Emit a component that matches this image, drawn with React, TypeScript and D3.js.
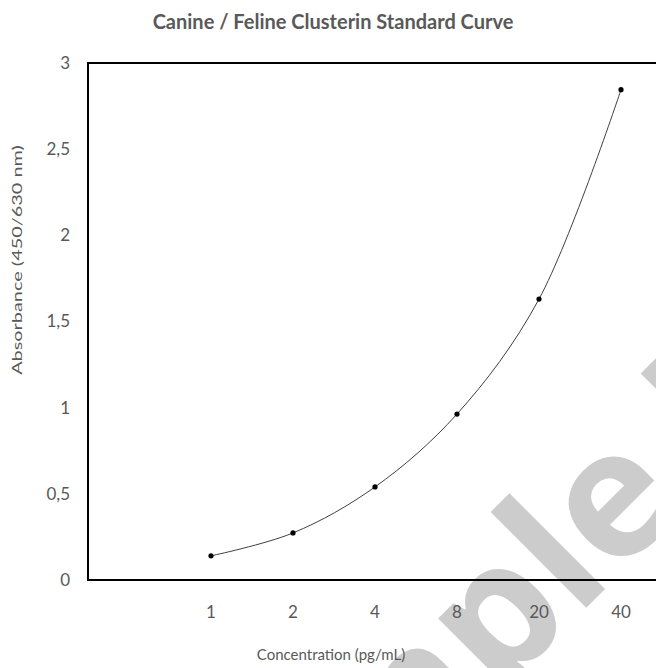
import React from 'react';
import * as d3 from 'd3';

// first category is an empty slot in the original sheet (no label, no point)
const categories = ['', '1', '2', '4', '8', '20', '40'];
const absorbance: (number | null)[] = [null, 0.14, 0.273, 0.54, 0.963, 1.63, 2.845];
const yTicks = [0, 0.5, 1, 1.5, 2, 2.5, 3];

const width = 656;
const height = 668;
const margin = { top: 63, left: 88, bottom: 580, right: 662 };
const font = 'Lato, "Open Sans", sans-serif';
const grey = '#595959';

export default function App() {
    const x = d3.scaleBand<string>()
        .domain(categories)
        .range([margin.left, margin.right]);

    const y = d3.scaleLinear()
        .domain([0, 3])
        .range([margin.bottom, margin.top]);

    const points = categories
        .map((c, i) => ({ c, v: absorbance[i] }))
        .filter(d => d.v !== null) as { c: string; v: number }[];

    const line = d3.line<{ c: string; v: number }>()
        .x(d => (x(d.c) as number) + x.bandwidth() / 2)
        .y(d => y(d.v))
        .curve(d3.curveCatmullRom.alpha(0.5));

    const fmt = (v: number) => String(v).replace('.', ',');

    return (
        <svg width={width} height={height} style={{ position: 'absolute', left: 0, top: 0, background: '#fff' }}>
            {/* watermark */}
            <text transform="translate(228 966) rotate(-45)"
                fontFamily='"Open Sans", sans-serif' fontWeight="bold" fontSize={178} fill="#cccccc">
                Sample<tspan dx={-4}> Data</tspan>
            </text>

            <text x={333} y={29} textAnchor="middle" fontFamily={font} fontWeight="bold" fontSize={20} fill={grey}>
                Canine / Feline Clusterin Standard Curve
            </text>

            <path d={line(points) || ''} fill="none" stroke="#404040" strokeWidth={1} />
            {points.map((d, i) => (
                <circle key={i}
                    cx={(x(d.c) as number) + x.bandwidth() / 2}
                    cy={y(d.v)}
                    r={2.6}
                    fill="#000" />
            ))}

            {/* plot area frame */}
            <rect x={margin.left} y={margin.top}
                width={margin.right - margin.left} height={margin.bottom - margin.top}
                fill="none" stroke="#000" strokeWidth={2} />

            {yTicks.map(t => (
                <text key={t} x={70} y={y(t)} dy="0.35em" textAnchor="end"
                    fontFamily={font} fontSize={17} fill={grey}>
                    {fmt(t)}
                </text>
            ))}

            {categories.map(c => (
                <text key={c} x={(x(c) as number) + x.bandwidth() / 2} y={612} dy="0.35em" textAnchor="middle"
                    fontFamily={font} fontSize={17} fill={grey}>
                    {c}
                </text>
            ))}

            <text x={331} y={660} textAnchor="middle" fontFamily={font} fontSize={15} fill={grey}>
                Concentration (pg/mL)
            </text>
            <text transform="translate(22 260) rotate(-90) scale(1.53 1)" textAnchor="middle"
                fontFamily={font} fontSize={13} fill={grey}>
                Absorbance (450/630 nm)
            </text>
        </svg>
    );
}
